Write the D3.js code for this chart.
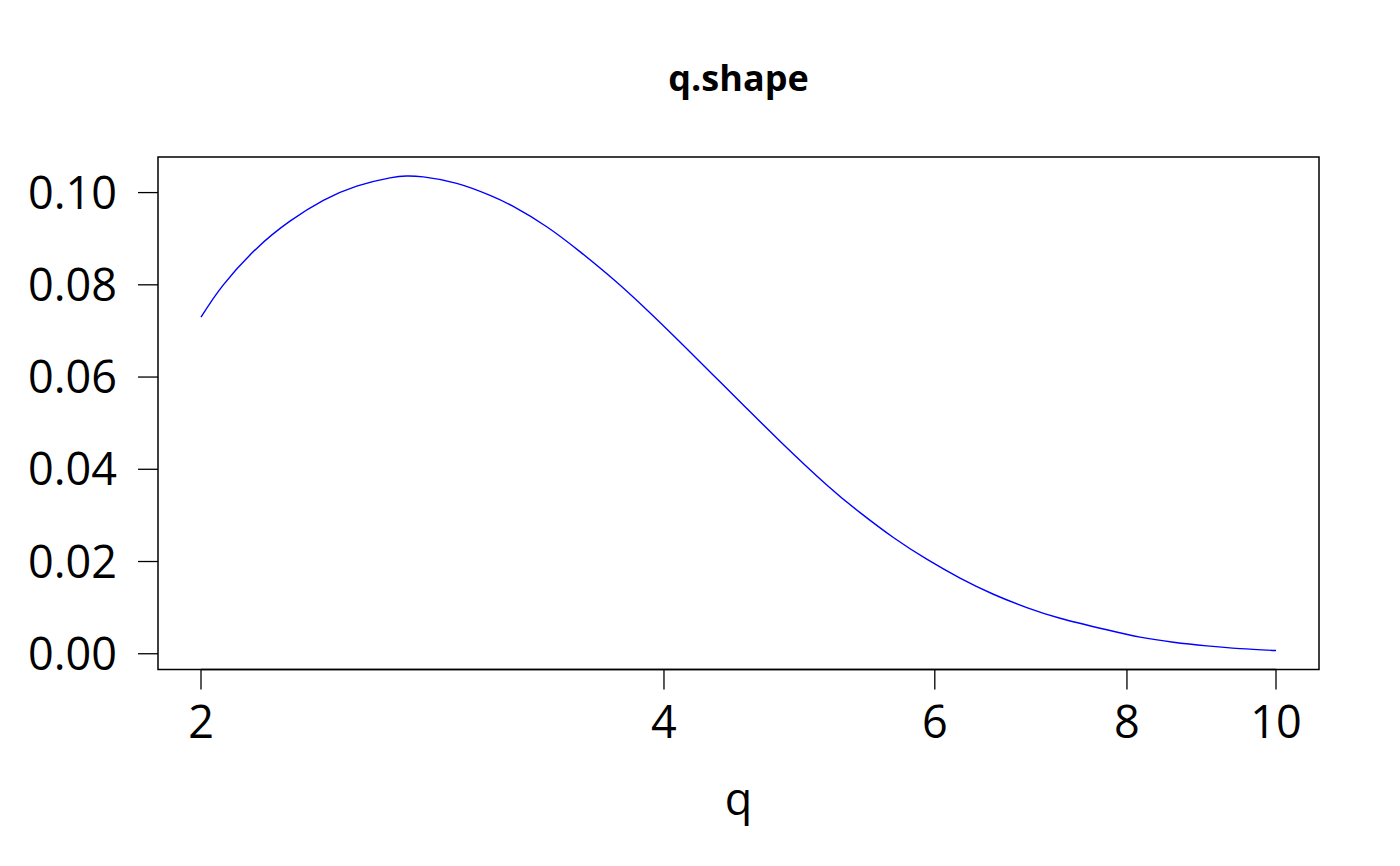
<!DOCTYPE html>
<html>
<head>
<meta charset="utf-8">
<script src="https://cdn.jsdelivr.net/npm/d3@7"></script>
<style>
  html, body { margin: 0; padding: 0; background: #fff; }
  text { font-family: "Open Sans", "Noto Sans", sans-serif; fill: #000; }
</style>
</head>
<body>
<div id="chart"></div>
<script>
// values
var qValues = [2.000, 2.068, 2.174, 2.285, 2.402, 2.525, 2.654, 2.721, 2.790, 2.933,
  3.083, 3.192, 3.356, 3.527, 3.708, 3.898, 4.097, 4.307, 4.528, 4.759,
  5.104, 5.365, 5.639, 5.928, 6.231, 6.550, 6.886, 7.238,
  7.762, 8.159, 8.576, 9.016, 9.476, 10.000];
var density = [0.0730, 0.0800, 0.0879, 0.0938, 0.0983, 0.1014, 0.1032, 0.1036, 0.1034, 0.1020,
  0.0994, 0.0970, 0.0926, 0.0872, 0.0812, 0.0746, 0.0676, 0.0604, 0.0532, 0.0461,
  0.0366, 0.0306, 0.0252, 0.0205, 0.0164, 0.0129, 0.0100, 0.0077,
  0.0052, 0.0036, 0.0025, 0.0017, 0.0011, 0.0007];
var xTicks = [2, 4, 6, 8, 10];
var yTicks = [0, 0.02, 0.04, 0.06, 0.08, 0.10];

var width = 1400, height = 866;
var box = {left: 158, right: 1319, top: 157, bottom: 669.5};

var svg = d3.select("#chart").append("svg")
  .attr("width", width)
  .attr("height", height);

// R style: data range padded by 4% on each side
var lx = d3.extent(qValues).map(Math.log10);
var px = (lx[1] - lx[0]) * 0.04;
var x = d3.scaleLog()
  .domain([Math.pow(10, lx[0] - px), Math.pow(10, lx[1] + px)])
  .range([box.left, box.right]);

var ey = d3.extent(density);
var py = (ey[1] - ey[0]) * 0.04;
var y = d3.scaleLinear()
  .domain([ey[0] - py, ey[1] + py])
  .range([box.bottom, box.top]);

// frame
svg.append("rect")
  .attr("x", box.left).attr("y", box.top)
  .attr("width", box.right - box.left)
  .attr("height", box.bottom - box.top)
  .attr("fill", "none").attr("stroke", "#000").attr("stroke-width", 1.5);

// x axis
var xAxis = svg.append("g");
xAxis.append("line")
  .attr("x1", x(xTicks[0])).attr("x2", x(xTicks[xTicks.length - 1]))
  .attr("y1", box.bottom).attr("y2", box.bottom)
  .attr("stroke", "#000").attr("stroke-width", 1.5);
xAxis.selectAll("line.tick").data(xTicks).enter().append("line")
  .attr("class", "tick")
  .attr("x1", function(d) { return x(d); }).attr("x2", function(d) { return x(d); })
  .attr("y1", box.bottom).attr("y2", box.bottom + 20)
  .attr("stroke", "#000").attr("stroke-width", 1.3);
xAxis.selectAll("text").data(xTicks).enter().append("text")
  .attr("x", function(d) { return x(d); })
  .attr("y", 738)
  .attr("text-anchor", "middle")
  .attr("font-size", 45)
  .text(function(d) { return d; });

// y axis
var yAxis = svg.append("g");
yAxis.selectAll("line.tick").data(yTicks).enter().append("line")
  .attr("class", "tick")
  .attr("x1", box.left - 20).attr("x2", box.left)
  .attr("y1", function(d) { return y(d); }).attr("y2", function(d) { return y(d); })
  .attr("stroke", "#000").attr("stroke-width", 1.3);
yAxis.selectAll("text").data(yTicks).enter().append("text")
  .attr("x", 117)
  .attr("y", function(d) { return y(d) + 16; })
  .attr("text-anchor", "end")
  .attr("font-size", 45)
  .text(function(d) { return d3.format(".2f")(d); });

// density curve
var line = d3.line()
  .x(function(d, i) { return x(qValues[i]); })
  .y(function(d) { return y(d); })
  .curve(d3.curveNatural);

svg.append("path")
  .datum(density)
  .attr("d", line)
  .attr("fill", "none")
  .attr("stroke", "#0000ff")
  .attr("stroke-width", 1.4);

// titles
svg.append("text")
  .attr("x", (box.left + box.right) / 2).attr("y", 91)
  .attr("text-anchor", "middle")
  .attr("font-size", 36)
  .attr("font-weight", "bold")
  .text("q.shape");

svg.append("text")
  .attr("x", (box.left + box.right) / 2).attr("y", 815)
  .attr("text-anchor", "middle")
  .attr("font-size", 45)
  .text("q");
</script>
</body>
</html>
